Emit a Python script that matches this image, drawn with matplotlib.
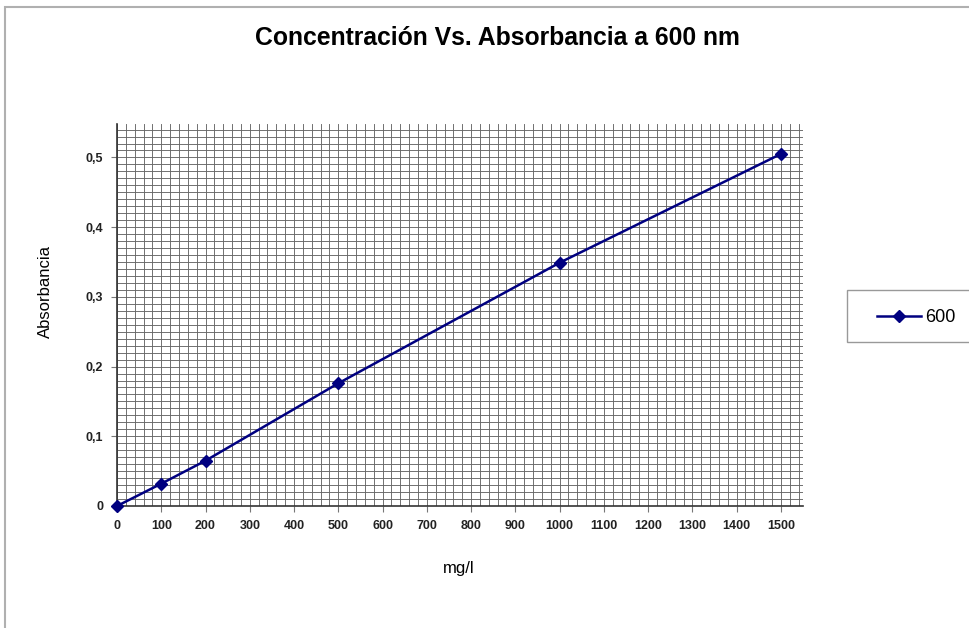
import matplotlib
matplotlib.use("Agg")
import matplotlib.pyplot as plt
from matplotlib.ticker import MultipleLocator, FuncFormatter
from matplotlib.patches import Rectangle
from matplotlib.lines import Line2D

plt.rcParams['font.family'] = ['Liberation Sans', 'DejaVu Sans']

concentracion = [0, 100, 200, 500, 1000, 1500]
absorbancia = [0.0, 0.032, 0.065, 0.176, 0.349, 0.505]
serie = "600"
x_ticks = list(range(0, 1501, 100))
y_ticks = [0, 0.1, 0.2, 0.3, 0.4, 0.5]

W, H = 970, 628
fig = plt.figure(figsize=(W / 100, H / 100), dpi=100)
fig.patch.set_facecolor('white')

# outer chart frame (cropped on right/bottom)
fig.patches.append(Rectangle((5 / W, -0.05), 1.2, 1 - 7 / H + 0.05, transform=fig.transFigure,
                             fill=False, edgecolor='#b0b0b0', linewidth=1.5))

ax = fig.add_axes([117 / W, 1 - 506 / H, (803 - 117) / W, (506 - 124) / H])
ax.plot(concentracion, absorbancia, color='#000080', marker='D', markersize=6,
        linewidth=1.8, label=serie, clip_on=False, zorder=5)

ax.set_xlim(0, 1550)
ax.set_ylim(0, 0.548)
ax.set_xticks(x_ticks)
ax.set_yticks(y_ticks)
ax.xaxis.set_minor_locator(MultipleLocator(20))
ax.yaxis.set_minor_locator(MultipleLocator(0.01))
ax.yaxis.set_major_formatter(FuncFormatter(lambda v, p: ('%g' % round(v, 2)).replace('.', ',')))
ax.grid(which='both', color='#666666', linewidth=0.65)
ax.set_axisbelow(True)
ax.tick_params(which='minor', length=0)
ax.tick_params(which='major', length=4, width=0.8, color='#777777', labelsize=9, pad=6)
for lbl in ax.get_xticklabels() + ax.get_yticklabels():
    lbl.set_fontweight('bold')
    lbl.set_color('#222222')
ax.spines['top'].set_visible(False)
ax.spines['right'].set_visible(False)
ax.spines['left'].set_color('#333333')
ax.spines['bottom'].set_color('#333333')
ax.spines['left'].set_linewidth(1.2)
ax.spines['bottom'].set_linewidth(1.2)

fig.text(459 / W, 1 - 568 / H, 'mg/l', ha='center', va='center', fontsize=12)
fig.text(45 / W, 1 - 292 / H, 'Absorbancia', ha='center', va='center', fontsize=12, rotation=90)

fig.text(497 / W, 1 - 38 / H, 'Concentración Vs. Absorbancia a 600 nm',
         ha='center', va='center', fontsize=17.8, fontweight='bold')

# legend box (extends past the right edge as in the reference)
fig.patches.append(Rectangle((847 / W, 1 - 342 / H), 200 / W, 52 / H, transform=fig.transFigure,
                             facecolor='white', edgecolor='#999999', linewidth=1.0))
h = ax.get_lines()[0]
fig.lines.append(Line2D([877 / W, 921 / W], [1 - 316 / H] * 2, transform=fig.transFigure,
                        color=h.get_color(), linewidth=1.8))
fig.lines.append(Line2D([899 / W], [1 - 316 / H], transform=fig.transFigure,
                        color=h.get_color(), marker='D', markersize=6, linestyle='none'))
fig.text(925 / W, 1 - 317 / H, h.get_label(), ha='left', va='center', fontsize=13)

fig.savefig('out.png', dpi=100)
